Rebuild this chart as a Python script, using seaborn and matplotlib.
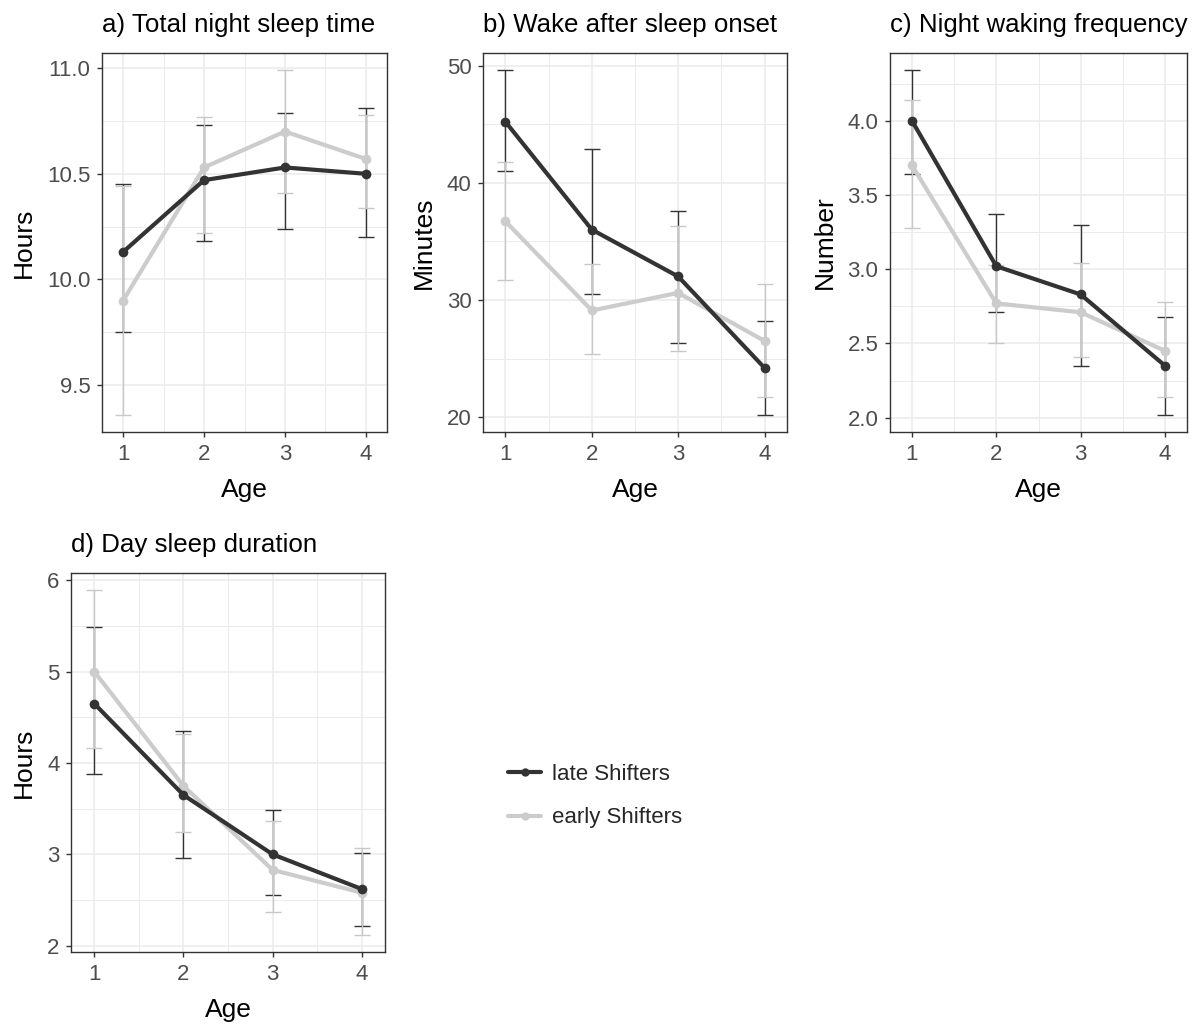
import numpy as np
import pandas as pd
import seaborn as sns
import matplotlib.pyplot as plt
from matplotlib.lines import Line2D
from matplotlib.ticker import MultipleLocator, FormatStrFormatter

sns.set_theme(style='white')
plt.rcParams['font.family'] = ['Liberation Sans', 'DejaVu Sans']

# Values (mean and error bar limits per age)
ages = [1, 2, 3, 4]
groups = ['late Shifters', 'early Shifters']

# a) Total night sleep time (hours)
a_late = [10.13, 10.47, 10.53, 10.50]
a_late_lo = [9.75, 10.18, 10.24, 10.20]
a_late_hi = [10.45, 10.73, 10.79, 10.81]
a_early = [9.90, 10.53, 10.70, 10.57]
a_early_lo = [9.36, 10.22, 10.41, 10.34]
a_early_hi = [10.44, 10.77, 10.99, 10.78]

# b) Wake after sleep onset (minutes)
b_late = [45.2, 36.0, 32.0, 24.2]
b_late_lo = [41.0, 30.5, 26.3, 20.2]
b_late_hi = [49.6, 42.9, 37.6, 28.2]
b_early = [36.7, 29.1, 30.6, 26.5]
b_early_lo = [31.7, 25.4, 25.6, 21.7]
b_early_hi = [41.8, 33.1, 36.3, 31.4]

# c) Night waking frequency (number)
c_late = [4.00, 3.02, 2.83, 2.35]
c_late_lo = [3.64, 2.71, 2.35, 2.02]
c_late_hi = [4.34, 3.37, 3.30, 2.68]
c_early = [3.70, 2.77, 2.71, 2.45]
c_early_lo = [3.28, 2.50, 2.41, 2.14]
c_early_hi = [4.14, 3.03, 3.04, 2.78]

# d) Day sleep duration (hours)
d_late = [4.65, 3.65, 3.00, 2.62]
d_late_lo = [3.88, 2.96, 2.55, 2.22]
d_late_hi = [5.49, 4.35, 3.48, 3.02]
d_early = [5.00, 3.75, 2.83, 2.58]
d_early_lo = [4.16, 3.25, 2.37, 2.12]
d_early_hi = [5.89, 4.32, 3.37, 3.07]

titles = ['a) Total night sleep time', 'b) Wake after sleep onset',
          'c) Night waking frequency', 'd) Day sleep duration']
ylabels = ['Hours', 'Minutes', 'Number', 'Hours']
major_steps = [0.5, 10, 0.5, 1]
tick_fmt = ['%.1f', '%d', '%.1f', '%d']

panels = [(a_late, a_late_lo, a_late_hi, a_early, a_early_lo, a_early_hi),
          (b_late, b_late_lo, b_late_hi, b_early, b_early_lo, b_early_hi),
          (c_late, c_late_lo, c_late_hi, c_early, c_early_lo, c_early_hi),
          (d_late, d_late_lo, d_late_hi, d_early, d_early_lo, d_early_hi)]

line_col = {'late Shifters': '#333333', 'early Shifters': '#CCCCCC'}
bar_col = {'late Shifters': '#333333', 'early Shifters': '#C8C8C8'}

W, H = 1203, 1028
fig = plt.figure(figsize=(W / 100, H / 100), dpi=100)
# axes boxes in pixels: left, top, right, bottom
boxes = [(102, 53, 387, 432), (483, 53, 787, 432),
         (890, 53, 1187, 432), (71, 573, 385, 952)]

for i, p in enumerate(panels):
    l, t, r, b = boxes[i]
    ax = fig.add_axes([l / W, 1 - b / H, (r - l) / W, (b - t) / H])
    late, late_lo, late_hi, early, early_lo, early_hi = p
    df = pd.DataFrame({
        'Age': ages * 2,
        'value': late + early,
        'lo': late_lo + early_lo,
        'hi': late_hi + early_hi,
        'group': ['late Shifters'] * 4 + ['early Shifters'] * 4,
    })

    for g in groups:
        sub = df[df['group'] == g]
        ax.errorbar(sub['Age'], sub['value'],
                    yerr=[sub['value'] - sub['lo'], sub['hi'] - sub['value']],
                    fmt='none', ecolor=bar_col[g], elinewidth=1.0,
                    capsize=6, capthick=1.0, zorder=2)

    sns.lineplot(data=df, x='Age', y='value', hue='group',
                 hue_order=['early Shifters', 'late Shifters'],
                 palette=line_col, marker='o', markersize=7,
                 markeredgewidth=0, linewidth=3, legend=False,
                 ax=ax, zorder=3)

    ymin = df['lo'].min()
    ymax = df['hi'].max()
    pad = 0.05 * (ymax - ymin)
    ax.set_ylim(ymin - pad, ymax + pad)
    ax.set_xlim(0.74, 4.26)
    ax.set_xticks(ages)
    ax.xaxis.set_minor_locator(MultipleLocator(0.5))
    ax.yaxis.set_major_locator(MultipleLocator(major_steps[i]))
    ax.yaxis.set_minor_locator(MultipleLocator(major_steps[i] / 2))
    ax.yaxis.set_major_formatter(FormatStrFormatter(tick_fmt[i]))
    ax.grid(which='major', color='#EBEBEB', linewidth=1.1)
    ax.grid(which='minor', color='#EBEBEB', linewidth=0.7)
    ax.set_axisbelow(True)
    for s in ax.spines.values():
        s.set_color('#333333')
        s.set_linewidth(1.0)
    ax.tick_params(which='major', direction='out', length=3.8, width=1.0,
                   color='#333333', labelsize=16, labelcolor='#4D4D4D',
                   left=True, bottom=True, pad=4.5)
    ax.tick_params(which='minor', length=0)
    ax.set_xlabel('Age', fontsize=19, color='black', labelpad=10)
    ax.set_ylabel(ylabels[i], fontsize=19, color='black', labelpad=8)
    ax.set_title(titles[i], loc='left', fontsize=18.6, color='black', pad=15)

handles = [Line2D([], [], color=line_col[g], linewidth=3, marker='o',
                  markersize=6, markeredgewidth=0) for g in groups]
fig.legend(handles, groups, loc='center left',
           bbox_to_anchor=(508 / W, 1 - 796 / H), frameon=False,
           fontsize=16, handlelength=1.5, handletextpad=0.5,
           labelspacing=1.02, borderpad=0, borderaxespad=0)

fig.savefig('out.png', dpi=100)
